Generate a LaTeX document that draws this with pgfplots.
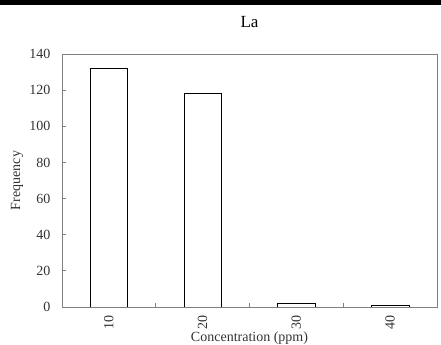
\documentclass[border=0pt]{standalone}
\usepackage{fontspec}
\setmainfont{Liberation Serif}
\usepackage{pgfplots}
\pgfplotsset{compat=1.18}
\definecolor{axgray}{HTML}{808080}
\definecolor{txt}{HTML}{333333}
\begin{document}
\begin{tikzpicture}
\path[use as bounding box] (-62bp,-38bp) rectangle (379bp,307bp);
\clip (-62bp,-38bp) rectangle (379bp,307bp);
\fill[black] (-62bp,302bp) rectangle (379bp,307bp);
\begin{axis}[
  scale only axis, width=375bp, height=253bp,
  xmin=-0.5, xmax=3.5, ymin=0, ymax=140,
  ytick={0,20,...,140},
  xtick={0,1,2,3}, xticklabels={10,20,30,40},
  minor xtick={0.5,1.5,2.5},
  major x tick style={draw=none},
  minor tick length=4bp, major tick length=4bp,
  tick align=inside,
  xtick pos=bottom, ytick pos=left,
  axis line style={axgray, line width=0.8pt},
  every tick/.style={axgray, line width=0.8pt},
  font=\fontsize{14bp}{16bp}\selectfont,
  /pgf/number format/assume math mode=true,
  ticklabel style={text=txt},
  xticklabel style={rotate=90, anchor=east},
  xtick align=inside,
  xticklabel shift=5bp,
  yticklabel style={xshift=-8bp},
  ylabel={Frequency},
  ylabel style={at={(axis description cs:-0.12,0.5)}, anchor=center, rotate=0, text=txt},
  xlabel={Concentration (ppm)},
  xlabel style={at={(axis description cs:0.5,0)}, anchor=base, yshift=-34.5bp, text=txt},
  title={La},
  title style={at={(axis description cs:0.5,1)}, anchor=base, yshift=21bp, font=\fontsize{17bp}{19bp}\selectfont, text=black},
]
\addplot[ybar, bar width=0.4, draw=black, fill=white, line width=0.6pt] coordinates {(0,132) (1,118) (2,2) (3,1)};
\end{axis}
\end{tikzpicture}
\end{document}
